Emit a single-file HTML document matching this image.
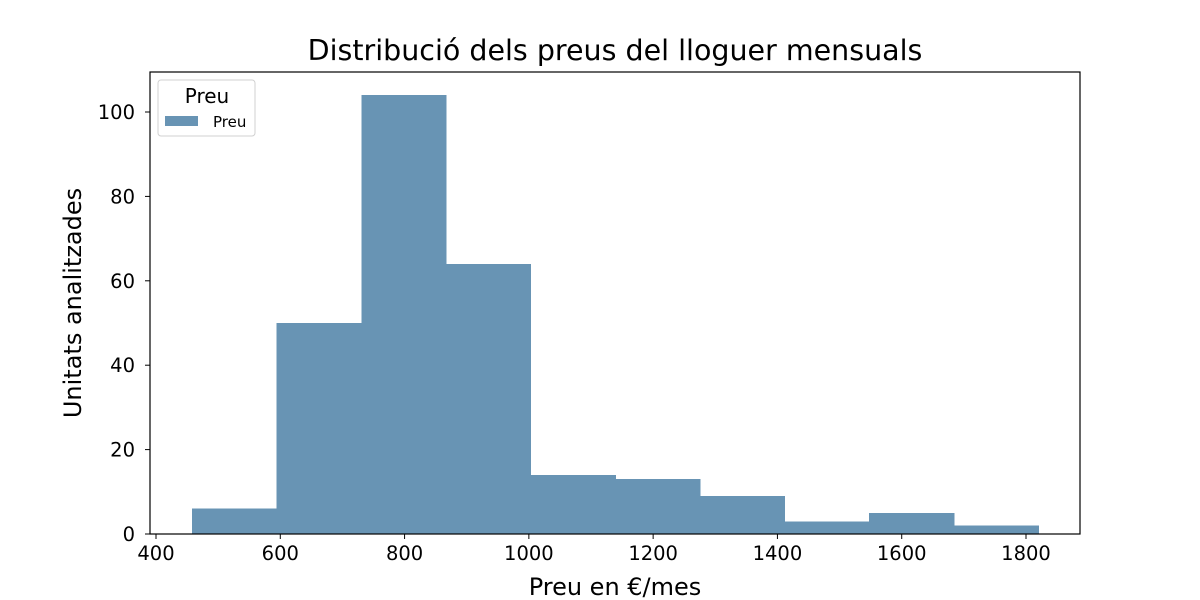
<!DOCTYPE html>
<html><head><meta charset="utf-8"><style>
html,body{margin:0;padding:0;background:#fff}
svg{display:block;font-family:"DejaVu Sans","Liberation Sans",sans-serif}
</style></head><body>
<svg id="chart" width="1200" height="600"></svg>
<script>
const binEdges = [458, 594.2, 730.4, 866.6, 1002.8, 1139, 1275.2, 1411.4, 1547.6, 1683.8, 1820];
const counts = [6, 50, 104, 64, 14, 13, 9, 3, 5, 2];
const xTicks = [400, 600, 800, 1000, 1200, 1400, 1600, 1800];
const yTicks = [0, 20, 40, 60, 80, 100];

const NS = "http://www.w3.org/2000/svg";
const svg = document.getElementById('chart');
const L = 150, R = 1080, T = 72, B = 534;
const xs = v => 156 + (v - 400) * (870 / 1400);
const ys = v => 534 - v * 4.22;
function mk(tag, attrs, parent) {
  const e = document.createElementNS(NS, tag);
  for (const k in attrs) e.setAttribute(k, attrs[k]);
  (parent || svg).appendChild(e);
  return e;
}
const barsG = mk('g', {'shape-rendering': 'crispEdges'});


counts.forEach((c, i) => {
  const x0 = xs(binEdges[i]), x1 = xs(binEdges[i + 1]);
  const r = mk('rect', {x: x0, y: ys(c), width: x1 - x0 + 0.6, height: ys(0) - ys(c), fill: '#6894b4'}, barsG);
  
  
});
const frame = mk('rect', {x: L, y: T, width: R - L, height: B - T, fill: 'none', stroke: '#000', 'stroke-width': 1.2});


xTicks.forEach(v => {
  const x = xs(v);
  mk('line', {x1: x, x2: x, y1: B, y2: B + 5, stroke: '#000', 'stroke-width': 1});
  const t = mk('text', {x: x, y: B + 26, 'text-anchor': 'middle', 'font-size': 19.5}); t.textContent = v;
  
  
});
yTicks.forEach(v => {
  const y = ys(v);
  mk('line', {x1: L - 5, x2: L, y1: y, y2: y, stroke: '#000', 'stroke-width': 1});
  const t = mk('text', {x: L - 15, y: y + 7, 'text-anchor': 'end', 'font-size': 19.5}); t.textContent = v;
  
  
});
const title = mk('text', {x: 615, y: 60, 'text-anchor': 'middle', 'font-size': 28.5}); title.textContent = 'Distribució dels preus del lloguer mensuals';


const xl = mk('text', {x: 615, y: 595, 'text-anchor': 'middle', 'font-size': 24}); xl.textContent = 'Preu en €/mes';


const yl = mk('text', {x: 0, y: 0, 'text-anchor': 'middle', 'font-size': 24, transform: 'translate(81,303) rotate(-90)'}); yl.textContent = 'Unitats analitzades';


const lg = mk('g', {});


mk('rect', {x: 158, y: 80, width: 97, height: 56, rx: 3, fill: '#fff', stroke: '#d0d0d0', 'stroke-width': 1}, lg);
const lt = mk('text', {x: 207, y: 103, 'text-anchor': 'middle', 'font-size': 20}, lg); lt.textContent = 'Preu';


const sw = mk('rect', {x: 165, y: 116, width: 33, height: 10, fill: '#6894b4'}, lg);


const le = mk('text', {x: 213, y: 127, 'font-size': 15}, lg); le.textContent = 'Preu';


</script>
</body></html>
